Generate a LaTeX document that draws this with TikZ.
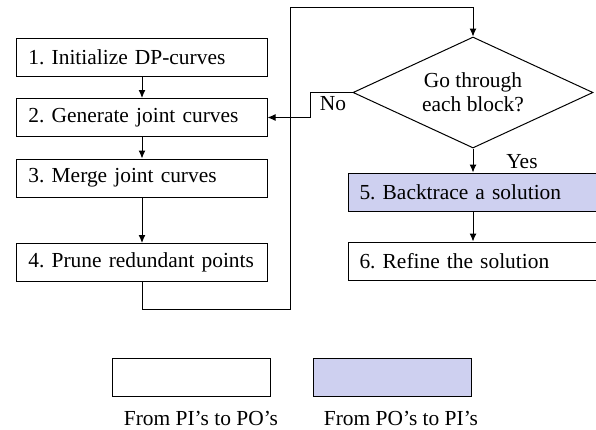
\documentclass[tikz,border=0pt]{standalone}
\usepackage{fontspec}
\setmainfont{Liberation Serif}
\usetikzlibrary{shapes.geometric}
\usetikzlibrary{arrows.meta}
\definecolor{lavender}{RGB}{206,208,240}

\begin{document}
\frenchspacing
\begin{tikzpicture}[x=1bp, y=-1bp, >={Latex[length=8bp,width=7bp]}, line width=1bp,
    box/.style={draw, rectangle, minimum width=250bp, minimum height=38bp, text width=227bp, inner xsep=11bp, align=left, font=\fontsize{21.5}{24}\selectfont},
    decision/.style={draw, diamond, aspect=2.16, minimum width=240bp, minimum height=111bp, inner sep=0pt, align=center, font=\fontsize{21.5}{24}\selectfont},
    legendbox/.style={draw, rectangle, minimum width=158bp, minimum height=38bp},
    lbl/.style={font=\fontsize{21.5}{24}\selectfont}]
  \useasboundingbox (0,0) rectangle (596,429);

  \node[box] at (142, 57) (init) {1. Initialize DP-curves};
  \node[box] at (142, 117.5) (gen) {2. Generate joint curves};
  \node[box] at (142, 178) (merge) {3. Merge joint curves};
  \node[box] at (142, 262.5) (prune) {4. Prune redundant points};

  \node[decision] at (473, 92.5) (check) {Go through\\each block?};
  \node[box, fill=lavender] at (473, 192) (back) {5. Backtrace a solution};
  \node[box] at (473, 261) (refine) {6. Refine the solution};

  \draw[->] (init) -- (gen);
  \draw[->] (gen) -- (merge);
  \draw[->] (merge) -- (prune);

  % loop back to the test
  \coordinate (loopbot) at (290, 309);
  \coordinate (looptop) at (290, 7);
  \draw[->] (prune.south) |- (loopbot) -- (looptop) -| (check.north);

  \coordinate (nobend) at (310, 92.5);
  \draw[->] (check.west) -- (nobend) |- (gen.east);
  \node[lbl] at (333, 104) (no) {No};

  \draw[->] (check.south) -- (back.north);
  \node[lbl] at (522, 162) (yes) {Yes};
  \draw[->] (back) -- (refine);

  % legend
  \node[legendbox] at (191, 377) (legfwd) {};
  \node[legendbox, fill=lavender] at (392, 377) (legbwd) {};
  \node[lbl, anchor=base, inner sep=0pt] at (201, 425) (legfwdtxt) {From PI’s to PO’s};
  \node[lbl, anchor=base, inner sep=0pt] at (401, 425) (legbwdtxt) {From PO’s to PI’s};

\end{tikzpicture}
\end{document}
